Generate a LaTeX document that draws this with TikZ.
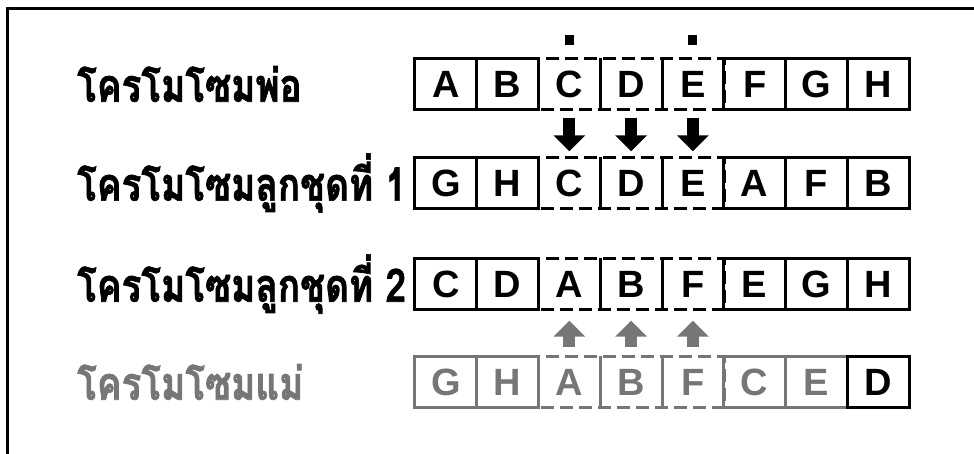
\documentclass[tikz,border=0pt]{standalone}
\usepackage{fontspec}
\setmainfont{Liberation Sans}
\newfontfamily\thaifont[Script=Thai,FakeStretch=0.8,BoldFeatures={FakeBold=1.5}]{Loma}
\usetikzlibrary{arrows.meta}
\definecolor{mgray}{RGB}{118,118,118}
\tikzset{
  cell/.style={minimum width=61.75pt, minimum height=51pt, inner sep=0pt,
    font=\fontsize{38}{38}\selectfont\bfseries},
  boxline/.style={line width=3pt},
  dashline/.style={line width=3.3pt, dash pattern=on 13pt off 6pt, dash phase=3pt},
  lbl/.style={anchor=west, inner sep=0pt, font=\thaifont\fontsize{46}{46}\selectfont\bfseries},
  blockarrow/.style={line width=12pt, -{Triangle[width=31pt,length=16pt]}},
  marker/.style={fill, minimum width=9pt, minimum height=10pt, inner sep=0pt}
}
\begin{document}
\begin{tikzpicture}[x=1pt,y=-1pt]
\useasboundingbox (0,0) rectangle (974,454);
\draw[line width=3pt] (7,454) -- (7,9) -- (974,9);
\foreach \r/\y/\c/\list in {1/84/black/{A,B,C,D,E,F,G,H},
                             2/183/black/{G,H,C,D,E,A,F,B},
                             3/284/black/{C,D,A,B,F,E,G,H},
                             4/382/mgray/{G,H,A,B,F,C,E,\textcolor{black}{D}}}{
  \foreach \l [count=\i] in \list {
    \node[cell, text=\c] (r\r c\i) at ({415+(\i-0.5)*61.75}, \y) {\l};
  }
  \foreach \i in {1,2,6,7,8}
    \draw[\c, boxline] (r\r c\i.north west) rectangle (r\r c\i.south east);
  \draw[\c, dashline] (r\r c3.north west) rectangle (r\r c5.south east);
  \draw[\c, boxline] (r\r c3.north east) -- (r\r c3.south east)
                     (r\r c4.north east) -- (r\r c4.south east);
}
\draw[boxline] (r4c8.north west) rectangle (r4c8.south east);
% labels
\node[lbl] (l1) at (77,84) {โครโมโซมพ่อ};
\node[lbl] (l2) at (77,183) {โครโมโซมลูกชุดที่ 1};
\node[lbl] (l3) at (77,284) {โครโมโซมลูกชุดที่ 2};
\node[lbl, text=mgray] (l4) at (77,382) {โครโมโซมแม่};
% markers
\node[marker] (m1) at ([yshift=18pt]r1c3.north) {};
\node[marker] (m2) at ([yshift=18pt]r1c5.north) {};
% arrows
\foreach \i in {3,4,5} {
  \draw[blockarrow, shorten <=8pt, shorten >=6pt] (r1c\i.south) -- (r2c\i.north);
  \draw[blockarrow, mgray, shorten <=9pt, shorten >=11pt] (r4c\i.north) -- (r3c\i.south);
}
\end{tikzpicture}
\end{document}
